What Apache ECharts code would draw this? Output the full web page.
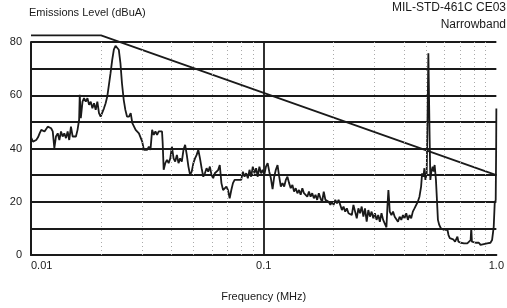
<!DOCTYPE html>
<html>
<head>
<meta charset="utf-8">
<title>MIL-STD-461C CE03</title>
<style>
  html, body { margin: 0; padding: 0; background: #fff; }
  #chart { width: 507px; height: 308px; }
</style>
<script src="https://cdn.jsdelivr.net/npm/echarts@6/dist/echarts.min.js"></script>
</head>
<body>
<div id="chart"></div>
<script>
// measured trace, frequency in MHz
const freqs = [
  0.0100, 0.0102, 0.01035, 0.01053, 0.01072, 0.01089, 0.01107, 0.01125, 0.01143, 0.01161,
  0.0118, 0.0120, 0.0122, 0.0124, 0.0126, 0.0128, 0.01303, 0.01324, 0.01346, 0.01368,
  0.0139, 0.01414, 0.01437, 0.0146, 0.01485, 0.0151, 0.01534, 0.0156, 0.01585, 0.0161,
  0.0162, 0.01637, 0.01665, 0.0169, 0.0172, 0.01748, 0.01777, 0.01806, 0.01836, 0.01866,
  0.01897, 0.01928, 0.0196, 0.01992, 0.02025, 0.02059, 0.02093, 0.02127, 0.02162, 0.02197,
  0.02234, 0.0227, 0.02308, 0.02345, 0.02384, 0.02423, 0.0246, 0.02503, 0.02544, 0.02586,
  0.02638, 0.02682, 0.02726, 0.02771, 0.02817, 0.02863, 0.0291, 0.02958, 0.03006, 0.03056,
  0.03106, 0.03157, 0.03209, 0.03262, 0.03316, 0.0337, 0.03426, 0.03482, 0.0354, 0.03597,
  0.03657, 0.03681, 0.03717, 0.03778, 0.0384, 0.03904, 0.03968, 0.04033, 0.041, 0.04167,
  0.04236, 0.04305, 0.04376, 0.04448, 0.04522, 0.04596, 0.04672, 0.04749, 0.04827, 0.04906,
  0.04987, 0.05069, 0.05152, 0.05237, 0.05324, 0.05411, 0.055, 0.0559, 0.05683, 0.05776,
  0.05871, 0.05968, 0.06067, 0.06166, 0.06268, 0.06371, 0.06476, 0.06582, 0.06691, 0.068,
  0.06912, 0.07026, 0.07142, 0.0726, 0.07379, 0.075, 0.07624, 0.07749,
  0.07879, 0.08008, 0.0814, 0.08274, 0.08411, 0.0855, 0.0869, 0.08834, 0.0898, 0.09128,
  0.09278, 0.09431, 0.09585, 0.09743, 0.09902, 0.1006, 0.1023, 0.104, 0.1057, 0.1074,
  0.1092, 0.111, 0.1128, 0.1147, 0.1166, 0.1185, 0.1205, 0.1225, 0.1245, 0.1265,
  0.1286, 0.1307, 0.1329, 0.1351, 0.1373, 0.1396, 0.1419, 0.1442, 0.1466, 0.149,
  0.1515, 0.154, 0.1565, 0.1591, 0.1617, 0.1643, 0.167, 0.1698, 0.1726, 0.1754,
  0.1783, 0.1812, 0.1842, 0.1873, 0.1903, 0.1935, 0.1966, 0.1998, 0.2031, 0.2065,
  0.2099, 0.2133, 0.2169, 0.2204, 0.2241, 0.2277, 0.2315, 0.2353, 0.2392, 0.2431,
  0.2471, 0.2512, 0.2553, 0.2595, 0.2638, 0.2682, 0.2726, 0.2771, 0.2817, 0.2863,
  0.291, 0.2958, 0.3006, 0.3056, 0.3106, 0.3157, 0.3209, 0.3262, 0.3316, 0.337,
  0.3403, 0.3436, 0.3459, 0.3482, 0.354, 0.3597, 0.3657, 0.3717, 0.3778, 0.384,
  0.3904, 0.3968, 0.4033, 0.41, 0.4167, 0.4236, 0.4305, 0.4376, 0.4448, 0.4522,
  0.4596, 0.4672, 0.4749, 0.4796,
  0.486, 0.4906, 0.4955, 0.5019, 0.5069, 0.5102, 0.5135, 0.5169, 0.5203, 0.5254,
  0.5323, 0.5375, 0.5429, 0.55, 0.5555, 0.5609, 0.5683, 0.5776, 0.5871, 0.5968,
  0.6067, 0.6166, 0.6228, 0.631, 0.6434, 0.6519, 0.6648, 0.6735, 0.6802, 0.6869,
  0.7028, 0.7144, 0.7261, 0.7381, 0.7502, 0.7626, 0.7751, 0.7802, 0.7852, 0.8008,
  0.814, 0.8274, 0.8411, 0.855, 0.869, 0.8834, 0.898, 0.9128, 0.9278, 0.9431,
  0.9585, 0.9743, 0.9838, 0.9936, 0.998, 1.0
]
// emission level in dBuA, one per frequency
const levels = [
  44.2, 42.6, 42.0, 43.2, 44.2, 45.7, 47.0, 47.6, 46.4, 47.0,
  48.2, 48.9, 47.6, 46.4, 40.1, 44.5, 45.7, 43.2, 46.4, 44.5,
  45.7, 43.9, 46.4, 43.2, 48.2, 44.5, 45.1, 44.5, 47.0, 50.8,
  60.2, 51.4, 57.6, 58.9, 57.6, 58.9, 56.4, 57.6, 55.1, 57.0,
  54.5, 57.6, 53.3, 52.0, 52.6, 55.1, 57.0, 59.5, 63.9, 68.3,
  73.3, 77.1, 78.6, 78.9, 77.1, 72.1, 64.5, 58.3, 54.5, 52.0,
  52.0, 53.3, 49.5, 50.1, 47.0, 47.6, 45.7, 45.1, 42.6, 39.5,
  40.1, 39.5, 40.7, 39.5, 47.0, 45.1, 46.4, 45.1, 46.4, 45.7,
  46.4, 42.0, 32.0, 34.5, 35.7, 34.5, 36.3, 40.7, 36.3, 35.1,
  37.6, 34.5, 36.3, 35.1, 39.5, 41.4, 37.6, 33.2, 30.1, 31.3,
  34.5, 36.3, 37.6, 39.5, 36.3, 32.6, 29.4, 30.7, 32.6, 31.3,
  33.2, 30.1, 28.8, 30.7, 30.1, 31.9, 33.8, 27.0, 24.4, 25.1,
  25.7, 24.4, 21.3, 24.4, 27.0, 28.2, 27.6, 28.2,
  28.8, 28.2, 31.3, 29.4, 30.7, 28.8, 32.0, 29.4, 33.2, 30.7,
  32.6, 29.4, 33.2, 30.7, 32.0, 30.1, 33.2, 34.5, 31.3, 28.8,
  24.7, 29.4, 32.0, 33.8, 29.4, 25.7, 27.0, 25.7, 28.2, 29.4,
  27.0, 25.1, 26.3, 23.8, 25.1, 23.2, 24.4, 22.6, 25.1, 23.2,
  23.8, 21.9, 23.8, 21.9, 23.2, 21.3, 22.6, 20.7, 23.2, 21.3,
  20.0, 23.8, 20.7, 21.3, 20.0, 18.8, 20.0, 18.8, 20.7, 19.4,
  20.7, 20.7, 16.9, 18.2, 16.3, 17.5, 15.7, 16.3, 15.0, 18.8,
  16.3, 13.8, 17.5, 15.7, 18.2, 14.4, 17.5, 12.5, 16.9, 14.4,
  16.3, 13.8, 15.7, 13.2, 15.0, 12.5, 15.7, 13.2, 12.5, 10.4,
  18.2, 24.4, 20.7, 16.3, 15.0, 16.3, 14.4, 15.0, 12.5, 14.4,
  13.2, 15.0, 13.8, 15.7, 13.2, 15.0, 13.8, 16.3, 17.5, 16.9,
  20.0, 21.9, 25.7, 30.7,
  29.4, 32.6, 28.2, 30.7, 55.8, 75.8, 75.2, 43.2, 28.2, 31.3,
  33.2, 31.3, 33.8, 28.2, 20.7, 13.2, 11.3, 10.0, 9.6, 9.4,
  8.8, 9.4, 7.5, 6.3, 5.6, 5.9, 5.0, 5.6, 6.9, 5.0,
  4.6, 5.0, 4.4, 5.0, 4.4, 5.0, 5.6, 10.0, 5.0, 4.4,
  4.6, 4.1, 4.6, 3.8, 4.4, 4.1, 4.6, 4.4, 5.0, 4.6,
  5.6, 10.6, 19.4, 20.7, 40.0, 55.0
]

// CE03 narrowband limit
const limitFreqs = [0.01, 0.02, 1.0]
const limitLevels = [82.5, 82.5, 30]

const xTickLabels = ['0.01', '0.1', '1.0']
const yTickLabels = [0, 20, 40, 60, 80]
const minorFreqs = [0.02, 0.03, 0.04, 0.05, 0.06, 0.07, 0.08, 0.09,
  0.2, 0.3, 0.4, 0.5, 0.6, 0.7, 0.8, 0.9]
const majorFreqs = [0.1]

const ink = '#1a1a1a'
const font = 'Liberation Sans, Arial, sans-serif'

const chart = echarts.init(document.getElementById('chart'))

const option = {
  animation: false,
  title: [
    {
      text: 'Emissions Level (dBuA)', left: 29, top: 7, padding: 0,
      textStyle: {fontSize: 11, fontWeight: 'normal', color: ink, fontFamily: font}
    },
    {
      text: 'MIL-STD-461C CE03', right: 1, top: 2, padding: 0,
      textStyle: {fontSize: 12, fontWeight: 'normal', color: ink, fontFamily: font}
    },
    {
      text: 'Narrowband', right: 1, top: 19, padding: 0,
      textStyle: {fontSize: 12, fontWeight: 'normal', color: ink, fontFamily: font}
    }
  ],
  grid: {left: 31, right: 6, top: 42, bottom: 53},
  xAxis: {
    type: 'log',
    logBase: 10,
    min: 0.01,
    max: 1,
    name: 'Frequency (MHz)',
    nameLocation: 'middle',
    nameGap: 36,
    nameTextStyle: {fontSize: 11, color: ink, fontFamily: font},
    axisLine: {lineStyle: {color: ink, width: 2}},
    axisTick: {show: false},
    splitLine: {show: false},
    axisLabel: {
      color: ink,
      fontSize: 11,
      fontFamily: font,
      margin: 5,
      alignMinLabel: 'left',
      formatter: function (v) {
        return xTickLabels[Math.round(Math.log10(v)) + 2] || ''
      }
    }
  },
  yAxis: {
    type: 'value',
    min: 0,
    max: 80,
    interval: 10,
    axisLine: {show: true, lineStyle: {color: ink, width: 2}},
    axisTick: {show: false},
    splitLine: {show: true, lineStyle: {color: ink, width: 1.8}},
    axisLabel: {
      color: ink,
      fontSize: 11,
      fontFamily: font,
      margin: 9,
      formatter: function (v) {
        return yTickLabels.indexOf(v) >= 0 ? String(v) : ''
      }
    }
  },
  series: [
    {
      // dotted decade sub-divisions
      type: 'line',
      data: [],
      silent: true,
      markLine: {
        silent: true,
        symbol: 'none',
        label: {show: false},
        lineStyle: {color: '#aaa', type: [1, 3], width: 1},
        data: minorFreqs.map(f => ({xAxis: f}))
      }
    },
    {
      type: 'line',
      data: [],
      silent: true,
      markLine: {
        silent: true,
        symbol: 'none',
        label: {show: false},
        lineStyle: {color: ink, type: 'solid', width: 1.8},
        data: majorFreqs.map(f => ({xAxis: f}))
      }
    },
    {
      name: 'limit',
      type: 'line',
      clip: false,
      showSymbol: false,
      symbol: 'none',
      lineStyle: {color: ink, width: 1.8},
      data: limitFreqs.map((f, i) => [f, limitLevels[i]])
    },
    {
      name: 'emission',
      type: 'line',
      showSymbol: false,
      symbol: 'none',
      lineStyle: {color: ink, width: 1.8},
      data: freqs.map((f, i) => [f, levels[i]])
    }
  ]
}

chart.setOption(option)
</script>
</body>
</html>
